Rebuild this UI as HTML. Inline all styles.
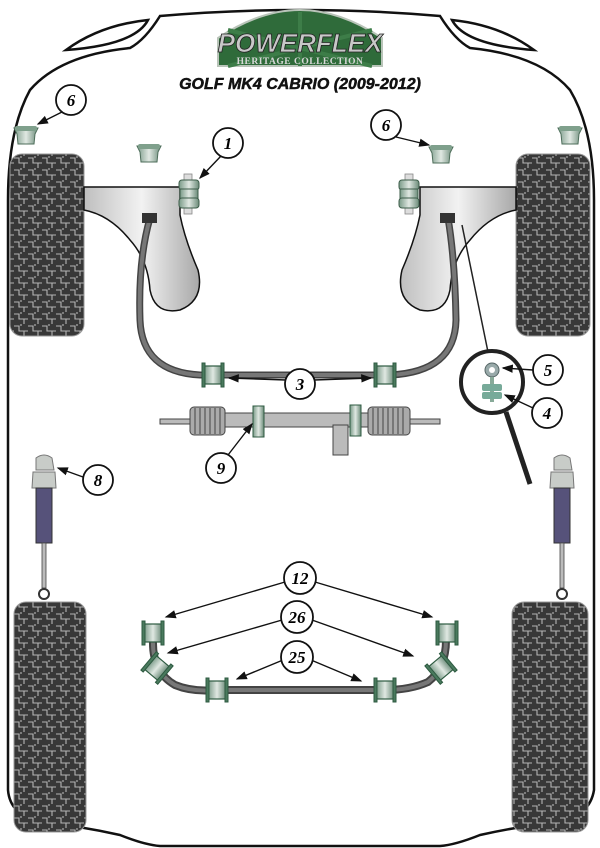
<!DOCTYPE html>
<html><head><meta charset="utf-8"><style>
body{margin:0;background:#fff}
svg{display:block}
.lab{font-family:"Liberation Serif",serif;font-weight:bold;font-style:italic;font-size:17px;text-anchor:middle}
</style></head><body>
<svg width="600" height="848" viewBox="0 0 600 848" xmlns="http://www.w3.org/2000/svg">
<defs>
<pattern id="tread" width="14" height="12" patternUnits="userSpaceOnUse">
<rect width="14" height="12" fill="#383838"/>
<path d="M0 2H5V7H10V12M10 7H14M7 0V2" stroke="#b5b5b5" stroke-width="1.1" fill="none"/>
</pattern>
<linearGradient id="arm" x1="0" x2="1"><stop offset="0" stop-color="#bfbfbf"/><stop offset=".5" stop-color="#f2f2f2"/><stop offset="1" stop-color="#a8a8a8"/></linearGradient>
<linearGradient id="bush" x1="0" x2="1"><stop offset="0" stop-color="#7a9a88"/><stop offset=".5" stop-color="#e0e8e2"/><stop offset="1" stop-color="#6a8a78"/></linearGradient>
<linearGradient id="bushv" x1="0" y1="0" x2="0" y2="1"><stop offset="0" stop-color="#7a9a88"/><stop offset=".5" stop-color="#e0e8e2"/><stop offset="1" stop-color="#6a8a78"/></linearGradient>
<marker id="ah" markerWidth="8" markerHeight="8" refX="7" refY="4" orient="auto"><path d="M0 1L8 4L0 7z" fill="#111"/></marker>
<g id="tb"><rect x="-9" y="-9" width="18" height="18" fill="url(#bush)" stroke="#2d5a40" stroke-width="1.2"/><rect x="-11" y="-12" width="3" height="24" fill="#4a7a5e" stroke="#2d5a40"/><rect x="8" y="-12" width="3" height="24" fill="#4a7a5e" stroke="#2d5a40"/></g>
<g id="cup"><path d="M-12 -6H12L9 0L8 10H-8L-9 0Z" fill="url(#bush)" stroke="#4d6d5a" stroke-width="1"/><rect x="-11" y="-8" width="22" height="5" rx="2" fill="#7fa08c"/></g>
</defs>

<path d="M160 16 Q300 4 440 16 Q455 40 470 48 Q540 55 570 90 Q594 130 594 200 L594 790 Q590 815 560 822 Q520 826 480 835 Q455 845 440 846 L160 846 Q145 845 120 835 Q80 826 40 822 Q10 815 8 790 L8 200 Q8 130 30 90 Q60 55 130 48 Q145 40 160 16Z" fill="none" stroke="#111" stroke-width="2.5"/>
<path d="M66 50 Q100 25 148 20 Q135 45 66 50Z" fill="none" stroke="#111" stroke-width="2.5"/>
<path d="M534 50 Q500 25 452 20 Q465 45 534 50Z" fill="none" stroke="#111" stroke-width="2.5"/>

<path d="M218 66 L218 38 Q260 10 300 10 Q340 10 382 38 L382 66Z" fill="#2f6b3a" stroke="#b9c4b9" stroke-width="2"/>
<path d="M300 12L300 66M228 30L372 66M372 30L228 66" stroke="#3d7d48" stroke-width="4"/>
<text x="300" y="52" font-family="Liberation Sans,sans-serif" font-weight="bold" font-style="italic" font-size="26" fill="#c8c8c8" stroke="#222" stroke-width=".8" text-anchor="middle">POWERFLEX</text>
<text x="300" y="64" font-family="Liberation Serif,serif" font-weight="bold" font-size="9.5" fill="#d8d8d8" text-anchor="middle" letter-spacing=".5">HERITAGE COLLECTION</text>
<text x="300" y="89" font-family="Liberation Sans,sans-serif" font-weight="bold" font-style="italic" font-size="16" fill="#111" stroke="#111" stroke-width=".5" text-anchor="middle">GOLF MK4 CABRIO (2009-2012)</text>

<rect x="10" y="154" width="74" height="182" rx="12" fill="url(#tread)" stroke="#999"/>
<rect x="516" y="154" width="74" height="182" rx="12" fill="url(#tread)" stroke="#999"/>
<rect x="14" y="602" width="72" height="230" rx="12" fill="url(#tread)" stroke="#999"/>
<rect x="512" y="602" width="76" height="230" rx="12" fill="url(#tread)" stroke="#999"/>

<path d="M84 187 H180 V215 Q185 240 198 270 Q205 300 180 310 Q155 315 150 290 Q148 260 130 240 Q110 215 84 210Z" fill="url(#arm)" stroke="#111" stroke-width="1.5"/>
<path d="M516 187 H420 V215 Q415 240 402 270 Q395 300 420 310 Q445 315 450 290 Q452 260 470 240 Q490 215 516 210Z" fill="url(#arm)" stroke="#111" stroke-width="1.5"/>

<path d="M150 218 Q138 260 140 320 Q142 372 200 375 H390 Q455 372 456 320 Q455 260 448 218" fill="none" stroke="#444" stroke-width="7"/>
<path d="M150 218 Q138 260 140 320 Q142 372 200 375 H390 Q455 372 456 320 Q455 260 448 218" fill="none" stroke="#777" stroke-width="4"/>
<rect x="142" y="213" width="15" height="10" fill="#333"/>
<rect x="440" y="213" width="15" height="10" fill="#333"/>
<use href="#tb" x="213" y="375"/><use href="#tb" x="385" y="375"/>

<g><rect x="184" y="174" width="8" height="40" fill="#ddd" stroke="#888" stroke-width=".8"/><rect x="179" y="180" width="20" height="10" rx="3" fill="url(#bush)" stroke="#3d5d4a"/><rect x="180" y="189" width="18" height="10" fill="url(#bush)" stroke="#3d5d4a"/><rect x="179" y="198" width="20" height="10" rx="3" fill="url(#bush)" stroke="#3d5d4a"/></g>
<g><rect x="405" y="174" width="8" height="40" fill="#ddd" stroke="#888" stroke-width=".8"/><rect x="399" y="180" width="20" height="10" rx="3" fill="url(#bush)" stroke="#3d5d4a"/><rect x="400" y="189" width="18" height="10" fill="url(#bush)" stroke="#3d5d4a"/><rect x="399" y="198" width="20" height="10" rx="3" fill="url(#bush)" stroke="#3d5d4a"/></g>
<use href="#cup" x="26" y="134"/><use href="#cup" x="149" y="152"/><use href="#cup" x="441" y="153"/><use href="#cup" x="570" y="134"/>

<rect x="160" y="419" width="280" height="5" fill="#bbb" stroke="#444"/>
<rect x="225" y="413" width="143" height="14" fill="#bbb" stroke="#444"/>
<rect x="333" y="425" width="15" height="30" fill="#bbb" stroke="#444"/>
<g fill="#aaa" stroke="#444"><rect x="190" y="407" width="35" height="28" rx="4"/><rect x="368" y="407" width="42" height="28" rx="4"/></g>
<path d="M195 408V434M200 408V434M205 408V434M210 408V434M215 408V434M220 408V434M373 408V434M378 408V434M383 408V434M388 408V434M393 408V434M398 408V434M403 408V434" stroke="#444"/>
<rect x="253" y="406" width="11" height="31" fill="url(#bush)" stroke="#2d5a40"/>
<rect x="350" y="405" width="11" height="31" fill="url(#bush)" stroke="#2d5a40"/>

<line x1="462" y1="225" x2="488" y2="352" stroke="#222" stroke-width="1.5"/>
<line x1="506" y1="412" x2="530" y2="484" stroke="#222" stroke-width="5"/>
<circle cx="492" cy="382" r="31" fill="#fff" stroke="#222" stroke-width="4"/>
<circle cx="492" cy="370" r="7" fill="#9aa" stroke="#566"/><circle cx="492" cy="370" r="3" fill="#fff"/>
<rect x="490" y="377" width="4" height="25" fill="#8a9"/>
<rect x="482" y="384" width="20" height="7" rx="2" fill="#7a9"/><rect x="482" y="392" width="20" height="7" rx="2" fill="#7a9"/>

<g>
<path d="M36 458 Q44 452 52 458 L54 470 L36 470Z" fill="#c8ccc8" stroke="#777"/>
<path d="M33 472 H55 L56 488 H32Z" fill="#c8ccc8" stroke="#777"/>
<rect x="36" y="488" width="16" height="55" fill="#56527a" stroke="#333"/>
<rect x="42" y="543" width="4" height="45" fill="#bbb" stroke="#444" stroke-width=".8"/>
<circle cx="44" cy="594" r="5" fill="#fff" stroke="#333" stroke-width="2"/>
</g>
<g transform="translate(518 0)">
<path d="M36 458 Q44 452 52 458 L54 470 L36 470Z" fill="#c8ccc8" stroke="#777"/>
<path d="M33 472 H55 L56 488 H32Z" fill="#c8ccc8" stroke="#777"/>
<rect x="36" y="488" width="16" height="55" fill="#56527a" stroke="#333"/>
<rect x="42" y="543" width="4" height="45" fill="#bbb" stroke="#444" stroke-width=".8"/>
<circle cx="44" cy="594" r="5" fill="#fff" stroke="#333" stroke-width="2"/>
</g>

<path d="M153 640 Q152 672 175 685 Q192 692 215 690 H385 Q410 690 428 682 Q446 668 446 640" fill="none" stroke="#444" stroke-width="8"/>
<path d="M153 640 Q152 672 175 685 Q192 692 215 690 H385 Q410 690 428 682 Q446 668 446 640" fill="none" stroke="#777" stroke-width="4"/>
<use href="#tb" x="153" y="633"/>
<use href="#tb" x="447" y="633"/>
<g transform="translate(157 668) rotate(40)"><use href="#tb"/></g>
<g transform="translate(441 668) rotate(-40)"><use href="#tb"/></g>
<use href="#tb" x="217" y="690"/>
<use href="#tb" x="385" y="690"/>

<g stroke="#111" stroke-width="1.4" marker-end="url(#ah)">
<line x1="221" y1="156" x2="200" y2="178"/>
<line x1="62" y1="112" x2="38" y2="124"/>
<line x1="396" y1="137" x2="429" y2="145"/>
<line x1="286" y1="380" x2="229" y2="378"/>
<line x1="314" y1="380" x2="371" y2="378"/>
<line x1="533" y1="370" x2="503" y2="368"/>
<line x1="533" y1="408" x2="505" y2="395"/>
<line x1="228" y1="455" x2="252" y2="424"/>
<line x1="83" y1="477" x2="58" y2="468"/>
<line x1="285" y1="582" x2="166" y2="617"/>
<line x1="315" y1="582" x2="432" y2="617"/>
<line x1="282" y1="620" x2="168" y2="653"/>
<line x1="312" y1="620" x2="413" y2="656"/>
<line x1="283" y1="660" x2="237" y2="679"/>
<line x1="311" y1="660" x2="361" y2="681"/>
</g>

<g fill="#fff" stroke="#111" stroke-width="1.8">
<circle cx="228" cy="143" r="15"/><circle cx="71" cy="100" r="15"/><circle cx="386" cy="125" r="15"/>
<circle cx="300" cy="384" r="15"/><circle cx="548" cy="370" r="15"/><circle cx="547" cy="413" r="15"/>
<circle cx="221" cy="468" r="15"/><circle cx="98" cy="480" r="15"/>
<circle cx="300" cy="578" r="16"/><circle cx="297" cy="617" r="16"/><circle cx="297" cy="657" r="16"/>
</g>
<g>
<text x="228" y="149" class="lab">1</text><text x="71" y="106" class="lab">6</text><text x="386" y="131" class="lab">6</text>
<text x="300" y="390" class="lab">3</text><text x="548" y="376" class="lab">5</text><text x="547" y="419" class="lab">4</text>
<text x="221" y="474" class="lab">9</text><text x="98" y="486" class="lab">8</text>
<text x="300" y="584" class="lab">12</text><text x="297" y="623" class="lab">26</text><text x="297" y="663" class="lab">25</text>
</g>
</svg>
</body></html>
